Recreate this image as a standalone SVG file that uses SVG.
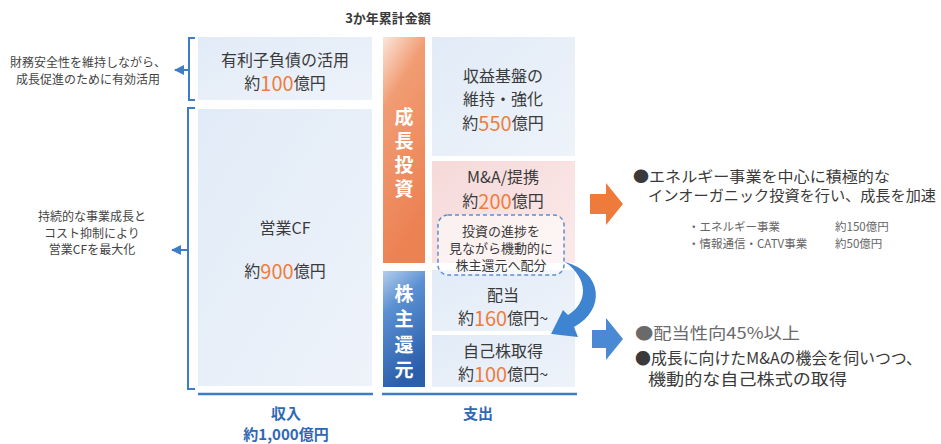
<svg xmlns="http://www.w3.org/2000/svg" width="941" height="444" viewBox="0 0 941 444">
<defs>
<linearGradient id="gBlueBox" x1="0" y1="0" x2="1" y2="1"><stop offset="0" stop-color="#e1ebf7"/><stop offset="1" stop-color="#eef3fa"/></linearGradient>
<linearGradient id="gPink" x1="0" y1="0" x2="1" y2="1"><stop offset="0" stop-color="#f6d9d9"/><stop offset="1" stop-color="#fbeaea"/></linearGradient>
<linearGradient id="gOrange" x1="0" y1="0" x2="0.3" y2="1"><stop offset="0" stop-color="#fbe6dc"/><stop offset="0.3" stop-color="#f19c73"/><stop offset="1" stop-color="#ec8152"/></linearGradient>
<linearGradient id="gBlue" x1="0" y1="0" x2="0.3" y2="1"><stop offset="0" stop-color="#b4cdec"/><stop offset="0.35" stop-color="#5a8fd2"/><stop offset="1" stop-color="#2b5fab"/></linearGradient>
<marker id="ah" viewBox="0 0 10 10" refX="9" refY="5" markerWidth="5" markerHeight="5" orient="auto-start-reverse"><path d="M0,0 L10,5 L0,10 z" fill="#3f7cc8"/></marker>
</defs>
<style>
text{font-family:"Noto Sans CJK JP","Noto Sans",sans-serif;dominant-baseline:central;text-anchor:middle;fill:#3a3a3a}
.num{fill:#f07d3c;font-size:20px}
.t16{font-size:16px}
.t15{font-size:15px}
.t13{font-size:13px}
.note{font-size:12px;fill:#444}
.wh{fill:#ffffff;font-size:19px;font-weight:bold}
.lbl{fill:#2f68b4;font-weight:bold;font-size:15px}
.br{fill:none;stroke:#3f7cc8;stroke-width:2}
.lt{text-anchor:start}
.sub{font-size:11.5px;fill:#666;text-anchor:start}
</style>
<rect width="941" height="444" fill="#ffffff"/>
<text x="388" y="17" style="font-size:13px;font-weight:bold" fill="#333">3か年累計金額</text>

<g id="debt">
<rect x="198" y="37" width="174" height="63" fill="url(#gBlueBox)"/>
<text x="285" y="59" class="t16">有利子負債の活用</text>
<text x="285" y="82" class="t16">約<tspan class="num">100</tspan>億円</text>
</g>
<g id="opcf">
<rect x="198" y="109" width="174" height="277" fill="url(#gBlueBox)"/>
<text x="285" y="227" class="t16">営業CF</text>
<text x="285" y="270" class="t16">約<tspan class="num">900</tspan>億円</text>
</g>
<g id="note1">
<text x="88" y="61" class="note">財務安全性を維持しながら、</text>
<text x="88" y="78" class="note">成長促進のために有効活用</text>
</g>
<g id="note2">
<text x="92" y="215" class="note">持続的な事業成長と</text>
<text x="92" y="232" class="note">コスト抑制により</text>
<text x="92" y="248" class="note">営業CFを最大化</text>
</g>

<g id="growth">
<rect x="383" y="37" width="42" height="226" fill="url(#gOrange)"/>
<text x="404" y="115" class="wh">成</text>
<text x="404" y="139" class="wh">長</text>
<text x="404" y="163" class="wh">投</text>
<text x="404" y="187" class="wh">資</text>
</g>
<g id="return">
<rect x="383" y="271" width="42" height="116" fill="url(#gBlue)"/>
<text x="404" y="292" class="wh">株</text>
<text x="404" y="317" class="wh">主</text>
<text x="404" y="343" class="wh">還</text>
<text x="404" y="368" class="wh">元</text>
</g>
<g id="base">
<rect x="432" y="37" width="143" height="119" fill="url(#gBlueBox)"/>
<text x="503" y="75" class="t16">収益基盤の</text>
<text x="503" y="98" class="t16">維持・強化</text>
<text x="503" y="122" class="t16">約<tspan class="num">550</tspan>億円</text>
</g>
<g id="ma">
<rect x="432" y="161" width="143" height="102" fill="url(#gPink)"/>
<text x="503" y="176" class="t16">M&amp;A/提携</text>
<text x="503" y="200" class="t16">約<tspan class="num">200</tspan>億円</text>
</g>
<g id="dividend">
<rect x="432" y="270" width="143" height="61" fill="url(#gBlueBox)"/>
<text x="503" y="294" class="t16">配当</text>
<text x="503" y="317" class="t16">約<tspan class="num">160</tspan>億円~</text>
</g>
<g id="buyback">
<rect x="432" y="335" width="143" height="52" fill="url(#gBlueBox)"/>
<text x="503" y="350" class="t16">自己株取得</text>
<text x="503" y="373" class="t16">約<tspan class="num">100</tspan>億円~</text>
</g>
<g id="alloc">
<rect x="438" y="215" width="126" height="60" rx="10" fill="#ffffff" fill-opacity="0.55" stroke="#5b8fd0" stroke-width="1.5" stroke-dasharray="4 3"/>
<text x="501" y="230" class="t13">投資の進捗を</text>
<text x="501" y="247" class="t13">見ながら機動的に</text>
<text x="501" y="264" class="t13">株主還元へ配分</text>
</g>

<g id="growth-note">
<text x="633" y="175" class="t15 lt" textLength="257" lengthAdjust="spacingAndGlyphs">●エネルギー事業を中心に積極的な</text>
<text x="648" y="194" class="t15 lt" textLength="288" lengthAdjust="spacingAndGlyphs">インオーガニック投資を行い、成長を加速</text>
<text x="688" y="226" class="sub">・エネルギー事業</text>
<text x="835" y="226" class="sub">約150億円</text>
<text x="688" y="243" class="sub">・情報通信・CATV事業</text>
<text x="835" y="243" class="sub">約50億円</text>
</g>
<g id="return-note">
<text x="635" y="332" class="t16 lt" style="fill:#6a6a6a" textLength="165" lengthAdjust="spacingAndGlyphs">●配当性向45%以上</text>
<text x="635" y="357" class="t16 lt" textLength="287" lengthAdjust="spacingAndGlyphs">●成長に向けたM&amp;Aの機会を伺いつつ、</text>
<text x="648" y="378" class="t16 lt" textLength="199" lengthAdjust="spacingAndGlyphs">機動的な自己株式の取得</text>
</g>
<g id="totals">
<text x="286" y="412" class="lbl">収入</text>
<text x="286" y="433" class="lbl">約1,000億円</text>
<text x="478" y="412" class="lbl">支出</text>
</g>

<g id="connectors">
<path class="br" d="M195,38 H189 V100 H195"/>
<path class="br" d="M195,108 H188 V389 H195"/>
<line x1="188" y1="70" x2="175" y2="70" stroke="#3f7cc8" stroke-width="2" marker-end="url(#ah)"/>
<line x1="187" y1="250" x2="172" y2="250" stroke="#3f7cc8" stroke-width="2" marker-end="url(#ah)"/>
<line x1="198" y1="394" x2="373" y2="394" stroke="#3f7cc8" stroke-width="2.5"/>
<line x1="382" y1="394" x2="577" y2="394" stroke="#3f7cc8" stroke-width="2.5"/>
<path d="M565,262 C603,272 606,310 574,327 L578,337 L551,334 L563,310 L568,315 C589,302 588,278 565,262 Z" fill="#3f84d0"/>
<polygon points="590,194 606,194 606,183 623,204 606,225 606,214 590,214" fill="#ee7a3c"/>
<polygon points="592,330 606,330 606,318 623,339 606,360 606,348 592,348" fill="#4a8ad4"/>
</g>
</svg>
